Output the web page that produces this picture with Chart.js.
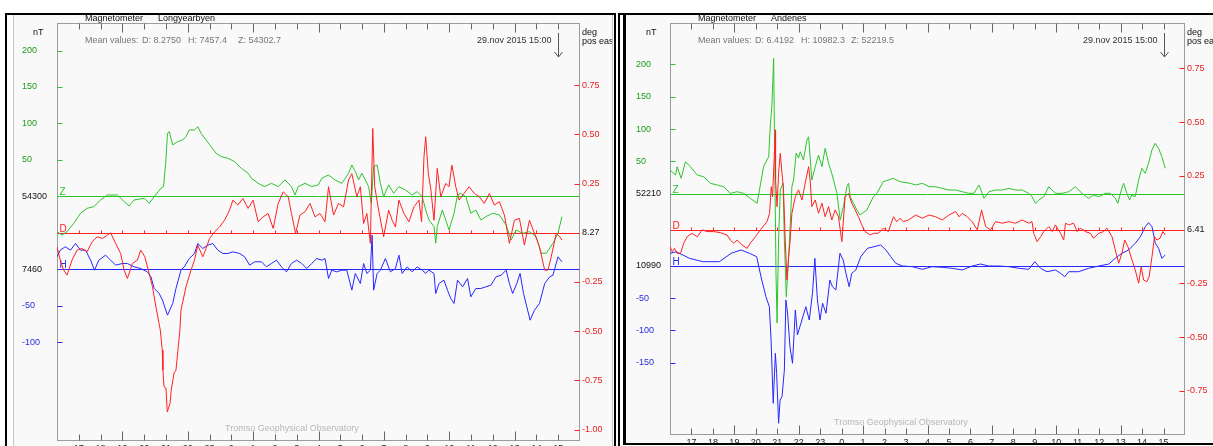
<!DOCTYPE html>
<html>
<head>
<meta charset="utf-8">
<script src="https://cdn.jsdelivr.net/npm/chart.js@4/dist/chart.umd.min.js"></script>
<style>
  html, body { margin: 0; padding: 0; background: #fff; }
  body { width: 1213px; height: 446px; overflow: hidden; position: relative; }
  #lybOuter { position: absolute; left: 5px; top: 13px; width: 607px; height: 460px; border: 2px solid #000; background: #fff; }
  #lybInner { position: absolute; left: 6px; top: 0; width: 598px; height: 460px; border-left: 1px solid #c4c4c4; border-right: 1px solid #c4c4c4; background: #f9f9f9; }
  #andOuter { position: absolute; left: 618px; top: 13px; width: 620px; height: 460px; border-left: 2px solid #000; border-top: 2px solid #000; background: #fff; }
  #andInner { position: absolute; left: 3px; top: 0; width: 610px; height: 428px; border-left: 3px solid #000; border-bottom: 2px solid #000; background: #f9f9f9; }
  canvas { position: absolute; left: 0; top: 0; }
</style>
</head>
<body>
<div id="lybOuter"><div id="lybInner"><canvas id="lyb" width="598" height="440"></canvas></div></div>
<div id="andOuter"><div id="andInner"><canvas id="and" width="600" height="428"></canvas></div></div>
<script>
const FONT = '"Liberation Sans", Arial, sans-serif';
const GREEN = '#2cc42c', RED = '#ff2020', BLUE = '#2626ff';
const GREEN_TXT = '#1f9a1f', RED_TXT = '#e82020', BLUE_TXT = '#2a2ae0';

// hours counted from 00:00 on 28 Nov, so 24 = 00:00 on 29 Nov
const hourTicks = [17, 18, 19, 20, 21, 22, 23, 24, 25, 26, 27, 28, 29, 30, 31, 32, 33, 34, 35, 36, 37, 38, 39];
const hourLabels = ['17', '18', '19', '20', '21', '22', '23', '0', '1', '2', '3', '4', '5', '6', '7', '8', '9', '10', '11', '12', '13', '14', '15'];

// ---- Longyearbyen (deviations from baseline: Z, H in nT, D in deg) ----
const lybZTime = [16.00, 16.23, 16.46, 16.77, 17.08, 17.38, 17.69, 18.00, 18.31, 18.77,
  19.08, 19.31, 19.54, 20.00, 20.23, 20.46, 20.77, 20.89, 21.00, 21.07,
  21.15, 21.31, 21.54, 21.77, 21.92, 22.07, 22.31, 22.46, 22.61, 22.84,
  23.07, 23.30, 23.54, 23.84, 24.15, 24.46, 24.77, 24.92, 25.23, 25.53,
  25.84, 26.15, 26.46, 26.76, 26.92, 27.07, 27.38, 27.69, 27.99, 28.15,
  28.30, 28.46, 28.76, 29.07, 29.38, 29.53, 29.69, 29.84, 29.99, 30.15,
  30.30, 30.42, 30.53, 30.69, 30.84, 30.99, 31.22, 31.45, 31.69, 31.99,
  32.30, 32.53, 32.76, 32.92, 33.07, 33.30, 33.38, 33.45, 33.68, 33.84,
  33.99, 34.22, 34.38, 34.53, 34.76, 34.99, 35.22, 35.45, 35.68, 35.99,
  36.30, 36.61, 36.84, 37.07, 37.38, 37.68, 37.99, 38.22, 38.45, 38.76,
  38.99, 39.17];
const lybZ = [-48.5, -53.1, -48.5, -37.1, -23.3, -16.5, -14.2, -5.0, 1.8, 1.8,
  -7.3, -13.3, -5.0, -2.7, -9.6, -0.5, 11.0, 13.3, 49.9, 86.5,
  88.8, 70.5, 75.0, 77.3, 81.9, 91.0, 91.0, 95.6, 86.5, 77.3,
  68.2, 59.0, 54.4, 52.2, 47.6, 38.4, 31.6, 24.7, 17.8, 13.3,
  17.8, 13.3, 22.4, 13.3, 1.8, 13.3, 17.8, 13.3, 15.6, 24.7,
  27.0, 29.3, 22.4, 17.8, 31.6, 43.0, 33.9, 22.4, 31.6, 22.4,
  13.3, -9.6, 40.7, 43.0, 17.8, -0.5, 15.6, 4.1, 13.3, 8.7,
  1.8, 6.4, -0.5, -18.8, -32.5, -41.6, -64.5, -41.6, -18.8, -32.5,
  -46.2, -23.3, 1.8, 4.1, -0.5, -23.3, -18.8, -32.5, -27.9, -23.3,
  -25.6, -39.3, -59.9, -46.2, -50.8, -48.5, -55.4, -78.2, -78.2, -64.5,
  -50.8, -27.9];

const lybDTime = [16.00, 16.15, 16.31, 16.46, 16.69, 16.92, 17.15, 17.38, 17.61, 17.85,
  18.08, 18.31, 18.46, 18.69, 18.92, 19.08, 19.23, 19.46, 19.69, 19.84,
  20.03, 20.23, 20.38, 20.54, 20.74, 20.83, 20.86, 20.91, 21.00, 21.06,
  21.19, 21.24, 21.37, 21.46, 21.55, 21.64, 21.69, 21.92, 22.15, 22.31,
  22.46, 22.69, 22.84, 23.00, 23.23, 23.46, 23.69, 23.92, 24.07, 24.30,
  24.53, 24.77, 25.00, 25.23, 25.46, 25.69, 25.92, 26.15, 26.38, 26.61,
  26.76, 26.95, 27.15, 27.38, 27.61, 27.84, 28.07, 28.30, 28.46, 28.69,
  28.92, 29.15, 29.38, 29.53, 29.76, 29.92, 30.07, 30.22, 30.38, 30.49,
  30.58, 30.76, 30.99, 31.22, 31.38, 31.53, 31.69, 31.92, 32.15, 32.38,
  32.61, 32.73, 32.84, 32.92, 33.04, 33.15, 33.30, 33.45, 33.61, 33.84,
  33.99, 34.12, 34.30, 34.45, 34.68, 34.91, 35.15, 35.38, 35.61, 35.84,
  36.07, 36.30, 36.53, 36.76, 36.99, 37.22, 37.45, 37.68, 37.91, 38.14,
  38.38, 38.53, 38.68, 38.91, 39.07, 39.17];
const lybD = [-0.071, -0.139, -0.190, -0.215, -0.139, -0.088, -0.080, -0.097, -0.046, -0.020,
  -0.029, -0.012, 0.000, -0.054, -0.105, -0.190, -0.232, -0.156, -0.139, -0.088,
  -0.122, -0.207, -0.274, -0.376, -0.494, -0.596, -0.698, -0.782, -0.789, -0.910,
  -0.865, -0.800, -0.713, -0.698, -0.596, -0.494, -0.393, -0.274, -0.190, -0.139,
  -0.063, -0.122, -0.080, -0.029, 0.005, 0.030, 0.064, 0.115, 0.166, 0.141,
  0.174, 0.124, 0.166, 0.056, 0.081, 0.098, 0.022, 0.149, 0.208, 0.183,
  0.098, -0.003, 0.090, 0.107, 0.149, 0.081, 0.098, 0.056, 0.234, 0.090,
  0.149, 0.132, 0.268, 0.301, 0.183, 0.234, 0.047, 0.098, -0.054, 0.530,
  0.234, 0.115, -0.020, 0.115, 0.064, 0.030, 0.166, 0.098, 0.056, 0.132,
  0.166, 0.056, 0.386, 0.488, 0.301, 0.225, 0.064, 0.327, 0.183, 0.251,
  0.234, 0.344, 0.234, 0.166, 0.200, 0.234, 0.200, 0.183, 0.149, 0.200,
  0.141, 0.158, 0.090, -0.054, 0.064, 0.073, -0.063, 0.064, -0.003, -0.071,
  -0.190, -0.190, -0.122, -0.003, -0.020, -0.037];

const lybHTime = [16.00, 16.15, 16.38, 16.62, 16.85, 17.08, 17.31, 17.54, 17.72, 17.92,
  18.23, 18.46, 18.69, 19.00, 19.23, 19.54, 19.84, 20.15, 20.31, 20.46,
  20.69, 20.84, 21.07, 21.31, 21.46, 21.69, 21.84, 22.07, 22.31, 22.46,
  22.69, 22.92, 23.15, 23.38, 23.61, 23.84, 24.07, 24.38, 24.61, 24.84,
  25.07, 25.38, 25.61, 25.84, 26.07, 26.30, 26.53, 26.76, 27.00, 27.23,
  27.46, 27.69, 27.92, 28.15, 28.30, 28.46, 28.61, 28.84, 29.07, 29.30,
  29.53, 29.69, 29.92, 30.07, 30.22, 30.38, 30.46, 30.53, 30.69, 30.84,
  31.07, 31.30, 31.53, 31.69, 31.84, 32.07, 32.30, 32.53, 32.76, 32.92,
  33.07, 33.30, 33.38, 33.53, 33.76, 33.92, 34.07, 34.22, 34.38, 34.61,
  34.84, 34.99, 35.22, 35.45, 35.68, 35.91, 36.15, 36.38, 36.61, 36.76,
  36.91, 37.10, 37.25, 37.41, 37.56, 37.71, 37.91, 38.14, 38.38, 38.61,
  38.76, 38.99, 39.17];
const lybH = [16.9, 26.1, 30.7, 26.1, 35.2, 26.1, 26.1, 12.4, -1.4, 12.4,
  19.2, 12.4, 5.5, 7.8, 7.8, 3.2, 0.9, -3.7, -10.5, -26.5,
  -33.4, -42.5, -63.1, -47.1, -26.5, -1.4, 3.2, 14.6, 21.5, 35.2,
  28.4, 32.9, 35.2, 26.1, 21.5, 21.5, 23.8, 21.5, 16.9, 5.5,
  10.1, 10.1, 3.2, 7.8, 12.4, 3.2, -3.7, 7.8, 12.4, 7.8,
  0.9, 7.8, 14.6, 12.4, 14.6, -12.8, -1.4, -3.7, -1.4, -1.4,
  -28.8, -5.9, -19.7, 7.8, -5.9, -1.4, 46.7, -28.8, -5.9, -1.4,
  14.6, -3.7, 0.9, 19.2, -5.9, 3.2, -3.7, 3.2, -1.4, -5.9,
  -1.4, -5.9, -33.4, -19.7, -15.1, -28.8, -40.3, -47.1, -15.1, -24.2,
  -12.8, -38.0, -26.5, -26.5, -24.2, -22.0, -10.5, -8.2, -1.4, -19.7,
  -33.4, -19.7, -5.9, -33.4, -51.7, -70.0, -56.3, -47.1, -19.7, -10.5,
  -8.2, 16.9, 10.1];

const lybZTicks = [200, 150, 100, 50];
const lybHTicks = [-50, -100];
const lybDTicks = [0.75, 0.5, 0.25, -0.25, -0.5, -0.75, -1];

// ---- Andenes ----
const andZTime = [16.00, 16.26, 16.33, 16.52, 16.72, 16.95, 17.27, 17.57, 17.88, 18.20,
  18.50, 18.81, 19.13, 19.43, 19.74, 20.06, 20.36, 20.60, 20.67, 20.75,
  20.83, 20.87, 20.94, 20.99, 21.06, 21.14, 21.27, 21.33, 21.42, 21.53,
  21.60, 21.68, 21.76, 21.88, 21.99, 22.07, 22.22, 22.38, 22.46, 22.53,
  22.61, 22.77, 22.92, 23.08, 23.23, 23.39, 23.54, 23.78, 23.93, 24.08,
  24.24, 24.32, 24.40, 24.55, 24.71, 24.86, 25.17, 25.48, 25.64, 25.94,
  26.41, 26.72, 27.19, 27.45, 27.76, 28.07, 28.38, 28.69, 29.00, 29.31,
  29.62, 29.93, 30.16, 30.40, 30.63, 30.86, 31.17, 31.48, 31.79, 32.10,
  32.41, 32.72, 32.87, 33.03, 33.19, 33.42, 33.65, 33.96, 34.27, 34.58,
  34.89, 35.20, 35.51, 35.74, 35.98, 36.29, 36.52, 36.75, 36.87, 37.03,
  37.14, 37.29, 37.42, 37.52, 37.68, 37.84, 37.99, 38.15, 38.30, 38.46,
  38.61, 38.77, 38.92, 39.08];
const andZ = [36.6, 28.9, 41.8, 23.8, 49.5, 41.8, 28.9, 26.3, 16.1, 13.5,
  10.8, 0.6, 3.1, 0.6, -7.1, -14.8, 41.8, 57.2, 103.6, 137.1,
  209.4, 83.0, -122.6, -199.9, -71.6, 5.7, 16.5, -71.6, -159.3, -97.4,
  -51.0, 10.8, 21.2, 62.9, 55.2, 64.9, 52.1, 83.0, 88.1, 57.2,
  21.2, 41.8, 59.8, 41.8, 70.2, 47.0, 31.5, 0.6, -40.7, -20.1,
  10.8, 16.1, -4.6, -14.8, -25.2, -32.9, -25.2, -4.6, 0.6, 18.6,
  23.8, 18.6, 16.1, 13.5, 16.1, 10.8, 10.8, 8.3, 5.7, 5.7,
  3.1, 0.6, 0.6, 13.5, -7.1, 3.1, 5.7, 5.7, 8.3, 5.7,
  5.7, 0.6, -4.6, -14.8, -9.7, -4.6, 10.8, 0.6, 0.6, 3.1,
  10.8, 0.6, -7.1, -2.0, -4.6, 0.6, 0.6, -7.1, -14.8, 5.7,
  16.1, 0.6, -9.7, -2.0, -4.6, 21.2, 39.3, 31.5, 47.0, 67.6,
  77.9, 70.2, 57.2, 39.3];

const andDTime = [16.00, 16.10, 16.21, 16.33, 16.49, 16.64, 16.80, 17.03, 17.27, 17.50,
  17.73, 18.04, 18.35, 18.66, 18.81, 18.97, 19.13, 19.36, 19.59, 19.74,
  19.98, 20.21, 20.52, 20.64, 20.72, 20.78, 20.91, 20.92, 20.99, 21.06,
  21.14, 21.22, 21.29, 21.37, 21.45, 21.53, 21.60, 21.68, 21.84, 21.99,
  22.15, 22.30, 22.46, 22.53, 22.61, 22.77, 22.92, 23.08, 23.23, 23.39,
  23.54, 23.70, 23.85, 24.01, 24.16, 24.32, 24.47, 24.63, 24.78, 24.94,
  25.09, 25.33, 25.48, 25.71, 25.94, 26.18, 26.41, 26.57, 26.72, 26.87,
  27.11, 27.45, 27.76, 28.07, 28.38, 28.69, 29.00, 29.31, 29.47, 29.62,
  29.85, 30.08, 30.32, 30.52, 30.71, 30.94, 31.17, 31.48, 31.79, 32.10,
  32.41, 32.72, 32.87, 32.95, 33.11, 33.27, 33.42, 33.65, 33.81, 33.96,
  34.20, 34.35, 34.43, 34.58, 34.81, 34.97, 35.13, 35.36, 35.59, 35.74,
  35.98, 36.21, 36.36, 36.60, 36.75, 36.91, 37.06, 37.19, 37.34, 37.53,
  37.68, 37.84, 37.96, 38.07, 38.22, 38.33, 38.46, 38.58, 38.69, 38.84,
  38.97, 39.08];
const andD = [-0.079, -0.102, -0.087, -0.110, -0.110, -0.063, -0.033, -0.017, -0.033, -0.001,
  -0.009, -0.009, -0.014, -0.025, -0.048, -0.063, -0.048, -0.071, -0.087, -0.063,
  -0.033, -0.001, 0.037, 0.076, 0.200, 0.153, 0.464, 0.231, 0.107, 0.262,
  0.355, 0.262, 0.185, -0.048, -0.234, -0.126, -0.048, 0.076, 0.153, 0.185,
  0.138, 0.216, 0.293, 0.231, 0.107, 0.138, 0.076, 0.123, 0.060, 0.107,
  0.045, 0.092, 0.060, -0.056, 0.153, 0.169, 0.123, 0.092, 0.060, 0.022,
  -0.009, -0.025, -0.017, -0.017, 0.007, -0.009, 0.060, 0.037, 0.053, 0.037,
  0.045, 0.068, 0.053, 0.068, 0.060, 0.045, 0.068, 0.084, 0.060, 0.076,
  0.060, 0.037, -0.001, 0.092, 0.014, -0.001, 0.037, 0.030, 0.037, 0.030,
  0.045, 0.030, 0.037, -0.017, -0.056, -0.033, -0.009, 0.014, -0.009, 0.022,
  -0.017, -0.048, 0.030, 0.022, 0.030, -0.009, 0.007, -0.009, -0.017, -0.040,
  -0.017, -0.009, 0.007, -0.033, -0.094, -0.156, -0.110, -0.048, -0.079, -0.141,
  -0.187, -0.249, -0.172, -0.234, -0.242, -0.219, -0.126, -0.033, -0.048, -0.040,
  -0.009, -0.025];

const andHTime = [16.00, 16.29, 16.91, 17.53, 18.30, 18.85, 19.31, 19.70, 20.04, 20.24,
  20.47, 20.63, 20.71, 20.81, 20.91, 20.97, 21.06, 21.13, 21.22, 21.33,
  21.40, 21.48, 21.59, 21.71, 21.84, 21.94, 22.10, 22.33, 22.49, 22.64,
  22.75, 22.87, 22.99, 23.11, 23.27, 23.45, 23.57, 23.73, 23.92, 24.07,
  24.20, 24.35, 24.47, 24.66, 24.89, 25.20, 25.51, 25.82, 26.06, 26.29,
  26.52, 26.83, 27.29, 27.76, 28.22, 28.69, 29.15, 29.62, 30.08, 30.47,
  30.86, 31.33, 31.79, 32.26, 32.72, 33.00, 33.27, 33.57, 33.96, 34.20,
  34.40, 34.58, 35.05, 35.51, 35.98, 36.45, 36.75, 37.06, 37.37, 37.68,
  37.92, 38.15, 38.30, 38.46, 38.62, 38.77, 38.92, 39.08];
const andH = [19.2, 21.6, 11.4, 6.2, 6.2, 19.2, 24.3, 19.2, 13.9, -17.0,
  -47.9, -63.4, -114.9, -212.8, -135.5, -166.4, -243.7, -207.7, -202.6, -161.3,
  -53.0, -73.6, -125.3, -150.9, -68.5, -107.2, -89.1, -63.4, -84.0, -42.7,
  11.4, -53.0, -84.0, -58.1, -73.6, -22.1, -32.5, -37.6, 19.2, 8.8,
  -11.8, -32.5, -11.8, -6.6, 13.9, 26.9, 29.4, 32.0, 24.3, 13.9,
  3.7, -0.5, -1.5, -5.6, -1.5, -2.5, -4.0, -6.6, -0.5, 2.6,
  -0.5, -0.5, -1.5, -4.0, -5.6, 6.2, -4.0, -9.3, -6.6, -11.8,
  -17.0, -9.3, -9.3, -4.0, -0.5, 2.6, 11.4, 19.2, 24.3, 34.6,
  44.8, 60.3, 66.5, 60.3, 34.6, 26.9, 11.4, 16.5];

const andZTicks = [200, 150, 100, 50];
const andHTicks = [-50, -100, -150];
const andDTicks = [0.75, 0.5, 0.25, -0.25, -0.5, -0.75];

const panels = [
  {
    canvas: 'lyb', station: 'Longyearbyen', stamp: '29.nov 2015 15:00',
    mean: ['D: 8.2750', 'H: 7457.4', 'Z: 54302.7'],
    zBase: '54300', hBase: '7460', dBase: '8.27',
    z: [lybZTime, lybZ], d: [lybDTime, lybD], h: [lybHTime, lybH],
    zTicks: lybZTicks, hTicks: lybHTicks, dTicks: lybDTicks,
    zRange: [-335.8, 237.8], hOff: 100, dRange: [-1.058, 1.066],
    padLeft: 8, leftW: 35, rightW: 32, xH: 14, tromsoX: 168
  },
  {
    canvas: 'and', station: 'Andenes', stamp: '29.nov 2015 15:00',
    mean: ['D: 6.4192', 'H: 10982.3', 'Z: 52219.5'],
    zBase: '52210', hBase: '10990', dBase: '6.41',
    z: [andZTime, andZ], d: [andDTime, andD], h: [andHTime, andH],
    zTicks: andZTicks, hTicks: andHTicks, dTicks: andDTicks,
    zRange: [-373.1, 264.0], hOff: 111.3, dRange: [-0.955, 0.961],
    padLeft: 10, leftW: 34, rightW: 41, xH: 8, tromsoX: 164
  }
];

function decor(p) {
  return {
    id: 'decor',
    beforeDatasetsDraw(chart) {
      const { ctx, chartArea: a, scales: s } = chart;
      const L = Math.round(a.left) + 0.5, R = Math.round(a.right) - 0.5;
      const T = Math.round(a.top) + 0.5, B = Math.round(a.bottom) - 0.5;
      const seg = (x1, y1, x2, y2, c) => {
        ctx.strokeStyle = c; ctx.beginPath(); ctx.moveTo(x1, y1); ctx.lineTo(x2, y2); ctx.stroke();
      };
      ctx.save();
      ctx.lineWidth = 1;
      ctx.strokeStyle = '#9c9c9c';
      ctx.strokeRect(L, T, R - L, B - T);

      const yD = Math.round(s.d.getPixelForValue(0)) + 0.5;
      hourTicks.forEach(h => {
        const x = Math.round(s.x.getPixelForValue(h)) + 0.5;
        const len = h % 3 === 1 ? 9 : 6;
        seg(x, T, x, T + len, '#666');
        seg(x, B, x, B - len, '#666');
        seg(x, yD, x, yD - 3, RED);
      });

      ctx.font = '10px ' + FONT;
      ctx.textAlign = 'left';
      ctx.textBaseline = 'alphabetic';
      [['z', GREEN, 'Z'], ['d', RED, 'D'], ['h', BLUE, 'H']].forEach(([id, c, lab]) => {
        const y = Math.round(s[id].getPixelForValue(0)) + 0.5;
        seg(L, y, R, y, c);
        ctx.fillStyle = c;
        ctx.fillText(lab, L + 2, y - 2);
      });

      // inward marks for the scale values
      p.zTicks.forEach(v => {
        const y = Math.round(s.z.getPixelForValue(v)) + 0.5;
        seg(L, y, L + 5, y, GREEN);
      });
      p.hTicks.forEach(v => {
        const y = Math.round(s.h.getPixelForValue(v)) + 0.5;
        seg(L, y, L + 5, y, BLUE);
      });
      p.dTicks.forEach(v => {
        const y = Math.round(s.d.getPixelForValue(v)) + 0.5;
        seg(R - 5, y, R, y, RED);
      });
      ctx.restore();
    },
    afterDraw(chart) {
      const { ctx, chartArea: a, scales: s } = chart;
      ctx.save();
      ctx.font = '9px ' + FONT;
      ctx.textBaseline = 'alphabetic';
      ctx.textAlign = 'left';
      ctx.fillStyle = '#111';
      ctx.fillText('Magnetometer', a.left + 28, a.top - 2);
      ctx.fillText(p.station, a.left + 101, a.top - 2);
      ctx.fillText('nT', a.left - 24, a.top + 12);
      ctx.fillText('deg', a.right + 2, a.top + 12);
      ctx.fillText('pos east', a.right + 2, a.top + 21);

      ctx.fillStyle = '#777';
      ctx.fillText('Mean values:', a.left + 28, a.top + 20);
      [85, 131, 181].forEach((dx, i) => ctx.fillText(p.mean[i], a.left + dx, a.top + 20));

      const xa = Math.round(s.x.getPixelForValue(39)) + 0.5;
      ctx.fillStyle = '#333';
      ctx.textAlign = 'right';
      ctx.fillText(p.stamp, xa - 7, a.top + 20);

      ctx.strokeStyle = '#555';
      ctx.lineWidth = 1;
      const y1 = a.top + 10, y2 = a.top + 34;
      ctx.beginPath();
      ctx.moveTo(xa, y1); ctx.lineTo(xa, y2);
      ctx.moveTo(xa - 4, y2 - 5); ctx.lineTo(xa, y2); ctx.lineTo(xa + 4, y2 - 5);
      ctx.stroke();

      ctx.textAlign = 'left';
      ctx.fillStyle = '#b6b6b6';
      ctx.fillText('Tromso Geophysical Observatory', a.left + p.tromsoX, a.bottom - 10);
      ctx.restore();
    }
  };
}

function series(pair, axis, color, label) {
  const [times, vals] = pair;
  return {
    label, yAxisID: axis, borderColor: color, borderWidth: 1,
    pointRadius: 0, fill: false, tension: 0,
    data: times.map((t, i) => ({ x: t, y: vals[i] }))
  };
}

function makeChart(p) {
  const isZBase = v => Math.abs(v) < 0.5;
  const isHBase = v => Math.abs(v + p.hOff) < 0.5;
  const zColor = v => v > 0.5 ? GREEN_TXT : (isZBase(v) || isHBase(v)) ? '#111' : BLUE_TXT;
  const tickFont = { family: FONT, size: 9 };

  return new Chart(document.getElementById(p.canvas), {
    type: 'line',
    data: {
      datasets: [
        series(p.d, 'd', RED, 'D'),
        series(p.z, 'z', GREEN, 'Z'),
        series(p.h, 'h', BLUE, 'H')
      ]
    },
    options: {
      responsive: false,
      animation: false,
      devicePixelRatio: 1,
      events: [],
      layout: { padding: { left: p.padLeft, top: 8, right: 0, bottom: 0 } },
      plugins: { legend: { display: false }, tooltip: { enabled: false } },
      scales: {
        x: {
          type: 'linear', position: 'bottom', min: 16, max: 40,
          grid: { display: false, drawTicks: false },
          border: { display: false },
          afterBuildTicks: sc => { sc.ticks = hourTicks.map(v => ({ value: v })); },
          afterFit: sc => { sc.height = p.xH; },
          ticks: {
            autoSkip: false, maxRotation: 0, padding: 2, color: '#222', font: tickFont,
            callback: (v, i) => hourLabels[i]
          }
        },
        z: {
          type: 'linear', position: 'left', min: p.zRange[0], max: p.zRange[1],
          grid: { display: false, drawTicks: false },
          border: { display: false },
          afterBuildTicks: sc => {
            sc.ticks = [...p.zTicks, 0, -p.hOff, ...p.hTicks.map(v => v - p.hOff)].map(v => ({ value: v }));
          },
          afterFit: sc => { sc.width = p.leftW; },
          ticks: {
            autoSkip: false, crossAlign: 'far', padding: 1, font: tickFont,
            color: c => zColor(c.tick.value),
            callback: v => v > 0.5 ? String(v) : isZBase(v) ? p.zBase : isHBase(v) ? p.hBase : String(Math.round(v + p.hOff))
          }
        },
        h: {
          type: 'linear', display: false,
          min: p.zRange[0] + p.hOff, max: p.zRange[1] + p.hOff
        },
        d: {
          type: 'linear', position: 'right', min: p.dRange[0], max: p.dRange[1],
          grid: { display: false, drawTicks: false },
          border: { display: false },
          afterBuildTicks: sc => {
            sc.ticks = [...p.dTicks, 0].map(v => ({ value: v }));
          },
          afterFit: sc => { sc.width = p.rightW; },
          ticks: {
            autoSkip: false, padding: 2, font: tickFont,
            color: c => Math.abs(c.tick.value) < 0.001 ? '#111' : RED_TXT,
            callback: v => Math.abs(v) < 0.001 ? p.dBase : v.toFixed(2)
          }
        }
      }
    },
    plugins: [decor(p)]
  });
}

panels.forEach(makeChart);
</script>
</body>
</html>
